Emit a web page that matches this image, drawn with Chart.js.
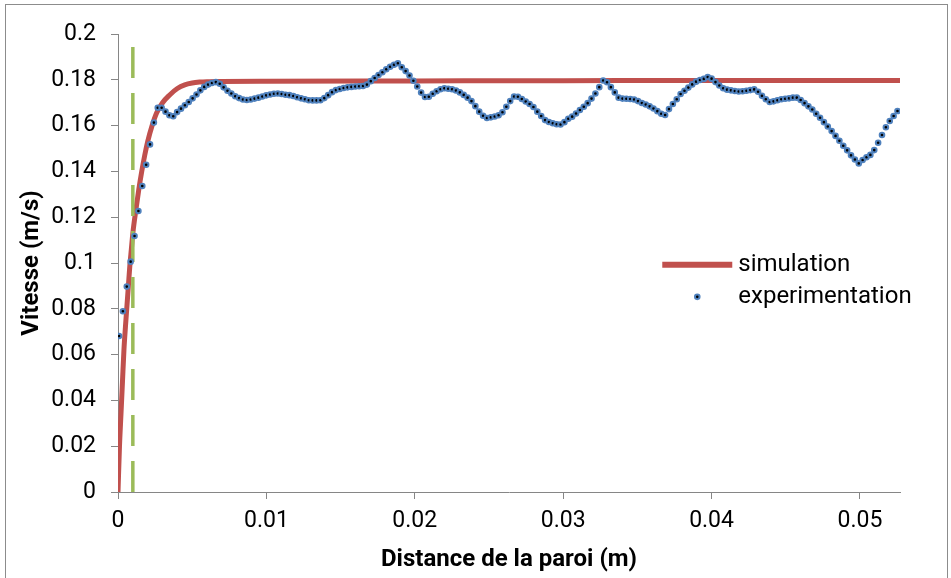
<!DOCTYPE html>
<html>
<head>
<meta charset="utf-8">
<script src="https://cdn.jsdelivr.net/npm/chart.js@4.4.1/dist/chart.umd.min.js"></script>
<style>
  html, body { margin: 0; padding: 0; background: #fff; overflow: hidden; }
  #wrap { position: relative; width: 951px; height: 578px; }
  #frame { position: absolute; left: 5px; top: 4px; width: 941px; height: 600px; border: 1px solid #8c8c8c; pointer-events: none; }
</style>
</head>
<body>
<div id="wrap">
  <canvas id="chart" width="951" height="578"></canvas>
  <div id="frame"></div>
</div>
<script>
// simulation (courbe lissée)
const simX = [0, 0.0001, 0.0002, 0.0003, 0.0004, 0.0005, 0.0006, 0.0007, 0.0008, 0.0009, 0.0010,
  0.0012, 0.0014, 0.0016, 0.0018, 0.0020, 0.0023, 0.0026, 0.0030, 0.0035, 0.0040, 0.0045,
  0.0050, 0.0055, 0.0060, 0.0070, 0.0100, 0.0200, 0.0300, 0.0400, 0.0527];
const simY = [0, 0.020, 0.034, 0.048, 0.062, 0.072, 0.081, 0.090, 0.099, 0.106, 0.113,
  0.123, 0.132, 0.140, 0.147, 0.153, 0.160, 0.1655, 0.170, 0.1735, 0.1762, 0.1778,
  0.1786, 0.1790, 0.1792, 0.1793, 0.1794, 0.1795, 0.1796, 0.1797, 0.1797];

// experimentation : pas regulier en x
const expStart = 0.00007;
const expStep = 0.000261;
const expY = [
  0.0681, 0.0789, 0.0897, 0.1006, 0.1118, 0.1227, 0.1336, 0.1429, 0.1518, 0.1613,
  0.1678, 0.1678, 0.1661, 0.1645, 0.1641, 0.1659, 0.1674, 0.1689, 0.1703, 0.1719,
  0.1736, 0.1754, 0.1769, 0.1779, 0.1786, 0.1790, 0.1783, 0.1767, 0.1752, 0.1740,
  0.1728, 0.1720, 0.1714, 0.1712, 0.1714, 0.1718, 0.1722, 0.1727, 0.1732, 0.1736,
  0.1739, 0.1740, 0.1738, 0.1735, 0.1733, 0.1729, 0.1724, 0.1719, 0.1715, 0.1711,
  0.1710, 0.1710, 0.1711, 0.1720, 0.1733, 0.1746, 0.1755, 0.1760, 0.1764, 0.1767,
  0.1769, 0.1771, 0.1772, 0.1773, 0.1779, 0.1794, 0.1808, 0.1821, 0.1833, 0.1846,
  0.1857, 0.1866, 0.1872, 0.1855, 0.1838, 0.1819, 0.1796, 0.1771, 0.1744, 0.1725,
  0.1726, 0.1739, 0.1750, 0.1759, 0.1763, 0.1761, 0.1759, 0.1753, 0.1745, 0.1734,
  0.1722, 0.1707, 0.1685, 0.1661, 0.1643, 0.1633, 0.1636, 0.1640, 0.1645, 0.1658,
  0.1682, 0.1707, 0.1727, 0.1726, 0.1716, 0.1705, 0.1694, 0.1681, 0.1661, 0.1642,
  0.1624, 0.1616, 0.1610, 0.1606, 0.1605, 0.1615, 0.1630, 0.1639, 0.1653, 0.1668,
  0.1682, 0.1698, 0.1718, 0.1740, 0.1768, 0.1797, 0.1789, 0.1768, 0.1745, 0.1722,
  0.1718, 0.1717, 0.1716, 0.1714, 0.1707, 0.1699, 0.1692, 0.1684, 0.1675, 0.1663,
  0.1652, 0.1646, 0.1672, 0.1694, 0.1715, 0.1738, 0.1752, 0.1766, 0.1780, 0.1792,
  0.1799, 0.1804, 0.1812, 0.1805, 0.1790, 0.1775, 0.1763, 0.1757, 0.1754, 0.1751,
  0.1749, 0.1750, 0.1752, 0.1755, 0.1758, 0.1748, 0.1730, 0.1715, 0.1703, 0.1706,
  0.1711, 0.1715, 0.1717, 0.1719, 0.1722, 0.1722, 0.1712, 0.1698, 0.1684, 0.1670,
  0.1652, 0.1634, 0.1615, 0.1596, 0.1576, 0.1555, 0.1534, 0.1512, 0.1492, 0.1470,
  0.1452, 0.1435, 0.1450, 0.1462, 0.1472, 0.1493, 0.1525, 0.1559, 0.1593, 0.1620,
  0.1642, 0.1664
];

// ligne verticale (limite couche)
const limitX = 0.001;
const limitY = [0, 0.2];

const xMin = 0, xMax = 0.0527, xStep = 0.01;
const yMin = 0, yMax = 0.2, yStep = 0.02;

const seriesNames = ['simulation', 'experimentation'];
const redColor = '#C0504D';
const blueColor = '#4F81BD';
const greenColor = '#9BBB59';

const simData = simX.map((x, i) => ({ x: x, y: simY[i] }));
const expData = expY.map((y, i) => ({ x: expStart + i * expStep, y: y }));
const limitData = limitY.map(y => ({ x: limitX, y: y }));

Chart.defaults.font.family = 'Roboto';
Chart.defaults.color = '#000';

// legende dans la zone de tracé
const insideLegend = {
    id: 'insideLegend',
    afterDatasetsDraw(chart) {
        const { ctx, chartArea: a } = chart;
        const x0 = a.left + a.width * 0.696;
        const y1 = a.top + a.height * 0.504;
        const y2 = y1 + 32;
        ctx.save();
        ctx.strokeStyle = redColor;
        ctx.lineWidth = 6;
        ctx.beginPath();
        ctx.moveTo(x0, y1);
        ctx.lineTo(x0 + 70, y1);
        ctx.stroke();
        ctx.beginPath();
        ctx.arc(x0 + 35, y2, 2.3, 0, Math.PI * 2);
        ctx.fillStyle = '#000';
        ctx.fill();
        ctx.lineWidth = 2;
        ctx.strokeStyle = blueColor;
        ctx.stroke();
        ctx.fillStyle = '#000';
        ctx.font = '24px Roboto';
        ctx.textBaseline = 'middle';
        ctx.textAlign = 'left';
        ctx.fillText(seriesNames[0], x0 + 76, y1);
        ctx.fillText(seriesNames[1], x0 + 76, y2);
        ctx.restore();
    }
};

function fmt(v) {
    return String(parseFloat(Number(v).toFixed(4)));
}

function initChart() {
    const ctx = document.getElementById('chart').getContext('2d');
    new Chart(ctx, {
        type: 'scatter',
        data: {
            datasets: [
                {
                    label: seriesNames[1],
                    data: expData,
                    showLine: false,
                    pointRadius: 2.3,
                    pointBackgroundColor: '#000',
                    pointBorderColor: blueColor,
                    pointBorderWidth: 2
                },
                {
                    label: 'limite',
                    data: limitData,
                    showLine: true,
                    borderColor: greenColor,
                    borderWidth: 3.5,
                    borderDash: [31, 15],
                    pointRadius: 0
                },
                {
                    label: seriesNames[0],
                    data: simData,
                    showLine: true,
                    borderColor: redColor,
                    borderWidth: 5,
                    cubicInterpolationMode: 'monotone',
                    pointRadius: 0
                }
            ]
        },
        options: {
            responsive: false,
            animation: false,
            devicePixelRatio: 1,
            layout: { padding: { left: 0, top: 34, right: 51, bottom: 0 } },
            plugins: {
                legend: { display: false },
                tooltip: { enabled: false }
            },
            scales: {
                x: {
                    type: 'linear',
                    min: xMin,
                    max: xMax,
                    afterFit: s => { s.height = 86; },
                    border: { display: true, color: '#868686', width: 1 },
                    grid: { drawOnChartArea: false, drawTicks: true, tickLength: 7, color: '#868686' },
                    ticks: {
                        stepSize: xStep,
                        includeBounds: false,
                        padding: 8,
                        maxRotation: 0,
                        font: { size: 23 },
                        callback: v => fmt(v)
                    },
                    title: {
                        display: true,
                        text: 'Distance de la paroi (m)',
                        font: { size: 24, weight: 'bold' },
                        padding: { top: 0, bottom: 4 }
                    }
                },
                y: {
                    type: 'linear',
                    min: yMin,
                    max: yMax,
                    afterFit: s => { s.width = 118; },
                    border: { display: true, color: '#868686', width: 1 },
                    grid: { drawOnChartArea: false, drawTicks: true, tickLength: 7, color: '#868686' },
                    ticks: {
                        stepSize: yStep,
                        padding: 15,
                        font: { size: 23 },
                        callback: v => fmt(v)
                    },
                    title: {
                        display: true,
                        text: 'Vitesse (m/s)',
                        font: { size: 24, weight: 'bold' },
                        padding: { top: 18, bottom: 0 }
                    }
                }
            }
        },
        plugins: [insideLegend]
    });
}

window.addEventListener('load', () => {
    initChart();
});
</script>
</body>
</html>
